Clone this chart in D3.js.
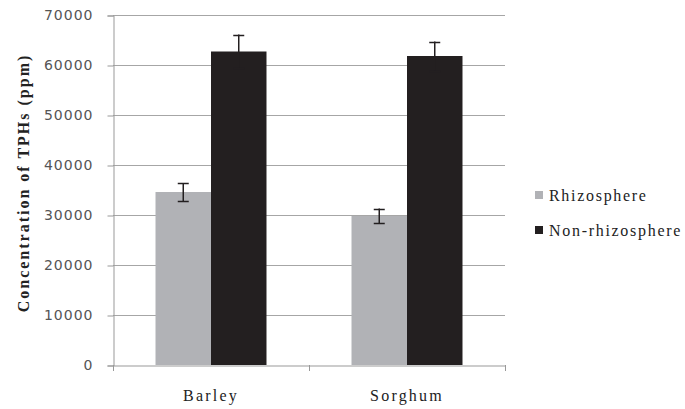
<!DOCTYPE html>
<html>
<head>
  <meta charset="utf-8">
  <title>TPH concentration</title>
  <script src="https://cdnjs.cloudflare.com/ajax/libs/d3/7.8.5/d3.min.js"></script>
  <style>
    body { margin: 0; background: #fff; }
  </style>
</head>
<body>
  <script>
    const categories = [ "Barley", "Sorghum" ];
    const seriesNames = [ "Rhizosphere", "Non-rhizosphere" ];
    const rhizoValues = [ 34600, 29800 ];
    const rhizoErrors = [ 1800, 1500 ];
    const nonRhizoValues = [ 62700, 61800 ];
    const nonRhizoErrors = [ 3400, 2900 ];
    const yTicks = [ 0, 10000, 20000, 30000, 40000, 50000, 60000, 70000 ];

    const colors = [ "#b1b2b6", "#231f20" ];
    const serif = '"Liberation Serif", "Times New Roman", serif';
    const width = 685, height = 409;
    const plotLeft = 113, plotRight = 505, plotTop = 15, plotBottom = 365;

    const svg = d3.select( "body" )
      .append( "svg" )
      .attr( "width", width )
      .attr( "height", height );

    const y = d3.scaleLinear()
      .domain( [0, 70000] )
      .range( [plotBottom, plotTop] );

    const x0 = d3.scaleBand()
      .domain( categories )
      .range( [plotLeft, plotRight] );

    const x1 = d3.scaleBand()
      .domain( seriesNames )
      .range( [0, x0.bandwidth()] )
      .paddingOuter( 0.766 );

    // gridlines
    svg.append( "g" )
      .selectAll( "line" )
      .data( yTicks.slice( 1 ) )
      .enter()
      .append( "line" )
      .attr( "x1", plotLeft )
      .attr( "x2", plotRight )
      .attr( "y1", d => Math.round( y( d ) ) + 0.5 )
      .attr( "y2", d => Math.round( y( d ) ) + 0.5 )
      .attr( "stroke", "#a6a6a6" );

    // y axis
    const yAxis = svg.append( "g" )
      .attr( "transform", `translate(${plotLeft + 0.5},0.5)` )
      .call( d3.axisLeft( y ).tickValues( yTicks ).tickSize( 6 ).tickPadding( 14 ).tickFormat( d3.format( "d" ) ) );
    yAxis.select( ".domain" ).attr( "stroke", "#999" );
    yAxis.selectAll( ".tick line" ).attr( "stroke", "#999" );
    yAxis.selectAll( "text" )
      .attr( "fill", "#555" )
      .style( "font-family", '"DejaVu Sans", sans-serif' )
      .style( "font-size", "14px" )
      .style( "letter-spacing", "1px" );

    // x axis
    const xAxis = svg.append( "g" )
      .attr( "transform", `translate(0,${plotBottom + 0.5})` )
      .call( d3.axisBottom( x0 ).tickSize( 0 ).tickPadding( 24 ) );
    xAxis.select( ".domain" ).attr( "stroke", "#999" );
    xAxis.selectAll( "text" )
      .attr( "fill", "#222" )
      .style( "font-family", serif )
      .style( "font-size", "16px" )
      .style( "letter-spacing", "2.2px" );

    // category separators on x axis
    svg.append( "g" )
      .selectAll( "line" )
      .data( [ plotLeft, x0( categories[1] ), plotRight ] )
      .enter()
      .append( "line" )
      .attr( "x1", d => Math.round( d ) + 0.5 )
      .attr( "x2", d => Math.round( d ) + 0.5 )
      .attr( "y1", plotBottom )
      .attr( "y2", plotBottom + 6 )
      .attr( "stroke", "#999" );

    const rows = categories.map( ( c, i ) => ( {
      cat: c,
      values: [
        { s: seriesNames[0], v: rhizoValues[i], e: rhizoErrors[i], color: colors[0] },
        { s: seriesNames[1], v: nonRhizoValues[i], e: nonRhizoErrors[i], color: colors[1] }
      ]
    } ) );

    const groups = svg.append( "g" )
      .selectAll( "g" )
      .data( rows )
      .enter()
      .append( "g" )
      .attr( "transform", d => `translate(${x0( d.cat )},0)` );

    groups.selectAll( "rect" )
      .data( d => d.values )
      .enter()
      .append( "rect" )
      .attr( "x", d => x1( d.s ) )
      .attr( "width", x1.bandwidth() )
      .attr( "y", d => y( d.v ) )
      .attr( "height", d => y( 0 ) - y( d.v ) )
      .attr( "fill", d => d.color );

    // error bars
    const err = groups.selectAll( "g.err" )
      .data( d => d.values )
      .enter()
      .append( "g" )
      .attr( "class", "err" )
      .attr( "stroke", "#231f20" )
      .attr( "stroke-width", 1.5 );

    err.append( "line" )
      .attr( "x1", d => x1( d.s ) + x1.bandwidth() / 2 )
      .attr( "x2", d => x1( d.s ) + x1.bandwidth() / 2 )
      .attr( "y1", d => y( d.v - d.e ) )
      .attr( "y2", d => y( d.v + d.e ) );

    [ 1, -1 ].forEach( sgn => {
      err.append( "line" )
        .attr( "x1", d => x1( d.s ) + x1.bandwidth() / 2 - 5.5 )
        .attr( "x2", d => x1( d.s ) + x1.bandwidth() / 2 + 5.5 )
        .attr( "y1", d => Math.round( y( d.v + sgn * d.e ) ) + 0.5 )
        .attr( "y2", d => Math.round( y( d.v + sgn * d.e ) ) + 0.5 );
    } );

    // y axis title
    svg.append( "text" )
      .attr( "transform", "translate(29,183) rotate(-90)" )
      .attr( "text-anchor", "middle" )
      .attr( "fill", "#222" )
      .style( "font-family", serif )
      .style( "font-weight", "bold" )
      .style( "font-size", "16px" )
      .style( "letter-spacing", "2px" )
      .text( "Concentration of TPHs (ppm)" );

    // legend
    const legend = svg.append( "g" )
      .selectAll( "g" )
      .data( seriesNames )
      .enter()
      .append( "g" )
      .attr( "transform", ( d, i ) => `translate(535,${195 + i * 35})` );

    legend.append( "rect" )
      .attr( "x", 0 )
      .attr( "y", -4 )
      .attr( "width", 8 )
      .attr( "height", 8 )
      .attr( "fill", ( d, i ) => colors[i] );

    legend.append( "text" )
      .attr( "x", 14 )
      .attr( "dy", "0.35em" )
      .attr( "fill", "#222" )
      .style( "font-family", serif )
      .style( "font-size", "16px" )
      .style( "letter-spacing", "1.7px" )
      .text( d => d );
  </script>
</body>
</html>
